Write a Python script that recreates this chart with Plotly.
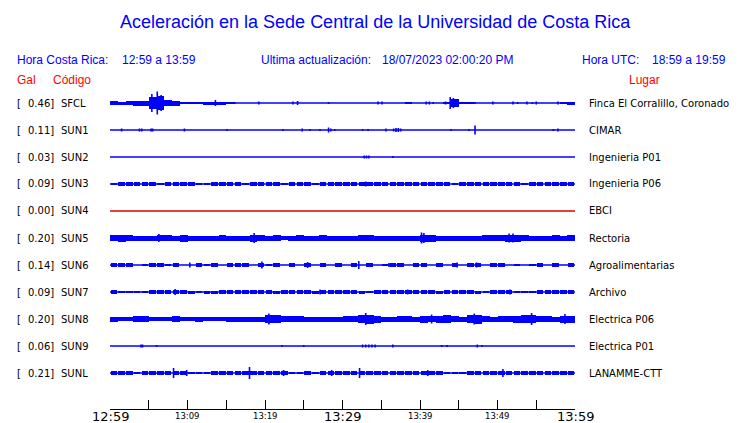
import plotly.graph_objects as go

W, H = 740, 423

# ---------------- data ----------------
codes = ["SFCL", "SUN1", "SUN2", "SUN3", "SUN4", "SUN5", "SUN6", "SUN7", "SUN8", "SUN9", "SUNL"]
places = ["Finca El Corralillo, Coronado", "CIMAR", "Ingenieria P01", "Ingenieria P06", "EBCI",
          "Rectoria", "Agroalimentarias", "Archivo", "Electrica P06", "Electrica P01", "LANAMME-CTT"]
gal = [0.46, 0.11, 0.03, 0.09, 0.00, 0.20, 0.14, 0.09, 0.20, 0.06, 0.21]

tick_minutes = [0, 5, 10, 15, 20, 25, 30, 35, 40, 45, 50, 55, 60]
major_labels = {0: "12:59", 30: "13:29", 60: "13:59"}
minor_labels = {10: "13:09", 20: "13:19", 40: "13:39", 50: "13:49"}

minutes = list(range(60))  # one-minute envelope bins from 12:59

# per-station envelope (half amplitude per minute) and isolated spikes (minute, half amplitude)
SFCL_env = [2, 1.5, 2, 2.5, 2.5, 6, 7, 3, 2.5, 1,
            1, 1, 1.5, 1.5, 1.5, 0.8, 0, 0, 0, 0,
            0, 0, 0, 0, 0, 0, 0, 0, 0, 0,
            0, 0, 0, 0, 0, 0, 0, 0, 1.2, 0,
            0, 0, 0, 1, 4, 1.2, 1, 0, 0, 0,
            0, 0, 0, 0, 0, 0, 0, 0, 1, 1.5]
SFCL_spk_t = [5.4, 6.1, 6.6, 13.6, 43.9, 44.3, 16.1, 19.2, 23.6, 24.2, 28.2, 34.6, 35.1, 40.8, 41.2, 41.7,
              43.3, 46.8, 47.1, 49.4, 52.0, 52.6, 53.8, 54.5, 55.0, 57.8]
SFCL_spk_a = [9, 11.5, 8, 3, 6, 5, 1, 1.5, 1.5, 2, 1, 1.5, 1.5, 1.5, 1.5, 1,
              1.5, 1, 1, 1.5, 1.5, 1, 1.5, 1, 1.5, 1.5]

SUN1_env = [0] * 60
SUN1_spk_t = [1.5, 3.8, 4.1, 5.3, 5.5, 9.6, 15.1, 22.3, 24.8, 25.8, 27.1, 28.2, 28.5, 29.0, 32.6, 33.3,
              35.6, 36.6, 36.9, 37.2, 37.5, 44.0, 46.3, 47.1, 57.2, 57.8]
SUN1_spk_a = [1.5, 1.5, 1.5, 1.5, 1.5, 1.5, 1, 1, 1.5, 1, 1, 2.5, 1.5, 1, 1, 1,
              1.5, 1.5, 2, 2, 1.5, 1, 1, 4.5, 1, 1.5]

SUN2_env = [0] * 60
SUN2_spk_t = [32.8, 33.1, 33.4, 36.5]
SUN2_spk_a = [1.5, 1.5, 1.5, 1]

SUN3_env = [1.4, 1.7, 1.7, 1.7, 1.7, 1.7, 1.4, 1.7, 1.7, 1.7,
            1.7, 1.4, 1.2, 1.7, 1.7, 1.7, 1.7, 1.4, 1.7, 1.7,
            1.7, 1.7, 1.4, 1.7, 1.7, 1.7, 1.4, 1.7, 1.7, 1.7,
            1.7, 1.7, 1.7, 1.7, 1.7, 2.0, 1.7, 1.7, 1.7, 1.7,
            1.7, 1.7, 1.7, 1.7, 1.4, 1.7, 1.7, 1.7, 1.7, 1.7,
            1.7, 1.7, 1.7, 1.4, 1.7, 1.7, 1.7, 2.0, 2.2, 2.2]
SUN3_spk_t = [33.0]
SUN3_spk_a = [2.5]

SUN4_env = [0] * 60
SUN4_spk_t = []
SUN4_spk_a = []

SUN5_env = [3, 3.5, 3, 2.5, 2.5, 2.5, 3, 3, 2.5, 3.5,
            2.5, 2.5, 2.5, 2.5, 3, 2.5, 2.5, 2.5, 3.5, 3,
            2.5, 3, 2, 2.5, 3, 2.5, 2.5, 3, 2.5, 2.5,
            2.5, 2.5, 3, 3, 2.5, 2.5, 2.5, 2.5, 2.5, 2.5,
            3.5, 3.5, 2.5, 2.5, 2.5, 2.5, 2.5, 2.5, 3, 3,
            3, 3.5, 3.5, 3, 2.5, 2.5, 2.5, 3, 2.5, 3]
SUN5_spk_t = [6.3, 18.6, 40.2, 40.5, 51.5, 52.0]
SUN5_spk_a = [4, 5, 5.5, 5, 4.5, 4.5]

SUN6_env = [1.7, 1.7, 1.7, 0, 1, 1.7, 1.7, 1, 1.7, 0,
            0, 1.7, 1, 1.7, 0, 1.7, 1.7, 1.7, 0, 1.7,
            1, 1.7, 0, 1.7, 0, 1.7, 0, 1.7, 0, 1.7,
            0, 1.7, 0, 1.7, 0, 1, 1.7, 1.7, 0, 1.7,
            1.7, 0, 1.7, 0, 2, 0, 1.7, 2, 0, 1.7,
            1.7, 0, 1, 0, 1, 1.7, 0, 1.7, 0, 1.7]
SUN6_spk_t = [10.3, 19.6, 25.5, 32.1, 44.8, 47.3, 36.0]
SUN6_spk_a = [2.5, 3.5, 3, 4, 2.5, 2.5, 2]

SUN7_env = [1.8, 1, 1, 1, 1, 1.8, 1.8, 1.8, 1.8, 1.8,
            1.5, 0.3, 1.5, 1.5, 1.8, 1.8, 1.8, 1.8, 1.8, 1.8,
            1.8, 1.5, 1.8, 1.8, 1.8, 1.8, 1.5, 1.8, 1.8, 1.8,
            1.8, 1.8, 1.5, 1, 1.8, 1.8, 1.8, 1.8, 1.8, 1.8,
            1.8, 1.8, 1.5, 1.8, 1.8, 1.8, 1.8, 1.5, 0.3, 1.8,
            1.8, 1.8, 1, 0.3, 0.3, 1.8, 1.8, 1.8, 1.8, 1.8]
SUN7_spk_t = [8.4, 27.1, 51.6, 38.4]
SUN7_spk_a = [3, 2.5, 2.5, 2.5]

SUN8_env = [2.5, 2, 2, 3, 3, 2, 2, 2, 3, 2,
            2, 2.5, 2, 2, 2, 2.5, 2.5, 2.5, 2.5, 2.5,
            4, 4, 3, 3, 3, 2.5, 2.5, 2.5, 2.5, 2.5,
            3, 3, 4, 4.5, 3.5, 2.5, 2.5, 3, 3, 2.5,
            3.5, 3, 3.5, 4, 3, 2.5, 4, 4.5, 3, 2.5,
            3, 3, 3.5, 4, 4, 3, 3, 2.5, 3.5, 3.5]
SUN8_spk_t = [20.5, 33.0, 41.5, 47.0, 54.4, 58.7]
SUN8_spk_a = [5.5, 6, 4.5, 5.5, 6, 5]

SUN9_env = [0] * 60
SUN9_spk_t = [4.0, 4.2, 6.0, 22.2, 25.0, 32.6, 33.0, 33.4, 33.8, 34.2, 36.5, 42.8, 43.5, 47.4, 48.0]
SUN9_spk_a = [1.5, 1.5, 1, 1, 1, 1.5, 1.5, 1.5, 1.5, 1.5, 1.5, 1, 1, 1.5, 1]

SUNL_env = [1.6, 1.6, 1.6, 1, 1.6, 1.6, 1.6, 1.6, 1.9, 1.6,
            1, 1, 1, 1.6, 1.6, 1.6, 1.6, 1.6, 1.6, 1.6,
            1.6, 1.6, 1.6, 1, 1, 1.6, 1, 1.6, 1.6, 1.6,
            1.6, 1.6, 1.6, 1.6, 1.6, 1.6, 1.6, 1.6, 1.6, 1.6,
            1.6, 1.9, 1.6, 1, 1, 1, 1.6, 1.6, 1.6, 1.6,
            1.6, 1.9, 1.6, 1.6, 1.6, 1.6, 1.6, 1.6, 1.6, 1.9]
SUNL_spk_t = [8.2, 9.9, 18.0, 22.4, 28.6, 32.2, 41.0, 50.7]
SUNL_spk_a = [5, 3, 6, 3, 3, 5, 3, 4]

# ---------------- figure ----------------
station_data = [
    (SFCL_env, SFCL_spk_t, SFCL_spk_a), (SUN1_env, SUN1_spk_t, SUN1_spk_a),
    (SUN2_env, SUN2_spk_t, SUN2_spk_a), (SUN3_env, SUN3_spk_t, SUN3_spk_a),
    (SUN4_env, SUN4_spk_t, SUN4_spk_a), (SUN5_env, SUN5_spk_t, SUN5_spk_a),
    (SUN6_env, SUN6_spk_t, SUN6_spk_a), (SUN7_env, SUN7_spk_t, SUN7_spk_a),
    (SUN8_env, SUN8_spk_t, SUN8_spk_a), (SUN9_env, SUN9_spk_t, SUN9_spk_a),
    (SUNL_env, SUNL_spk_t, SUNL_spk_a),
]

BLUE = "#0000ff"
RED = "#dd0000"
ROW0, ROWSTEP = 103, 27
AXIS_Y = 409
X0, X1 = 110, 575
DASHED = {"SUN3", "SUN6", "SUN7", "SUNL"}  # band texture: broken blocks

fig = go.Figure()

for i, (env, st, sa) in enumerate(station_data):
    row = ROW0 + ROWSTEP * i
    col = RED if codes[i] == "SUN4" else BLUE
    bw = 0.86 if codes[i] in DASHED else 1.0
    # baseline
    fig.add_trace(go.Scatter(x=[0, 60], y=[row, row], mode="lines",
                             line=dict(color=col, width=1.3), hoverinfo="skip", showlegend=False))
    # envelope band
    xs = [m + 0.5 for m, e in zip(minutes, env) if e > 0]
    es = [e for e in env if e > 0]
    if xs:
        fig.add_trace(go.Bar(x=xs, y=[2 * e for e in es], base=[row - e for e in es], width=bw,
                             marker=dict(color=col, line=dict(width=0)), hoverinfo="skip",
                             showlegend=False))
    # spikes
    if st:
        sx, sy = [], []
        for t, a in zip(st, sa):
            sx += [t, t, None]
            sy += [row - a, row + a, None]
        fig.add_trace(go.Scatter(x=sx, y=sy, mode="lines", line=dict(color=col, width=1.6),
                                 hoverinfo="skip", showlegend=False))

ann = []


def px(x):
    return x / W


def py(y):
    return 1 - y / H


def add_text(x, y, text, size, color, family, xanchor="left"):
    ann.append(dict(x=px(x), y=py(y), xref="paper", yref="paper", text=text, showarrow=False,
                    xanchor=xanchor, yanchor="middle", font=dict(size=size, color=color, family=family)))


HELV = "Liberation Sans, Arial, sans-serif"
DEJA = "DejaVu Sans, sans-serif"

add_text(375, 22, "Aceleración en la Sede Central de la Universidad de Costa Rica", 18, BLUE, HELV, "center")
add_text(15, 60, "Hora Costa Rica:", 12, BLUE, HELV)
add_text(120, 60, "12:59 a 13:59", 12, BLUE, HELV)
add_text(259, 60, "Ultima actualización:", 12, BLUE, HELV)
add_text(380, 60, "18/07/2023 02:00:20 PM", 12, BLUE, HELV)
add_text(580, 60, "Hora UTC:", 12, BLUE, HELV)
add_text(650, 60, "18:59 a 19:59", 12, BLUE, HELV)
add_text(15, 80, "Gal", 12, "#ff0000", HELV)
add_text(51, 80, "Código", 12, "#ff0000", HELV)
add_text(662, 80, "Lugar", 12, "#ff0000", HELV, "right")

for i in range(len(codes)):
    row = ROW0 + ROWSTEP * i
    add_text(15, row, "[", 10, "black", DEJA)
    add_text(56, row, f"{gal[i]:.2f}]", 10, "black", DEJA, "right")
    add_text(59, row, codes[i], 10, "black", DEJA)
    add_text(587, row, places[i], 10, "black", DEJA)

for m, lab in major_labels.items():
    ann.append(dict(x=m, y=py(416), xref="x", yref="paper", text=lab, showarrow=False,
                    xanchor="center", yanchor="middle", font=dict(size=13, color="black", family=DEJA)))
for m, lab in minor_labels.items():
    ann.append(dict(x=m, y=py(416), xref="x", yref="paper", text=lab, showarrow=False,
                    xanchor="center", yanchor="middle", font=dict(size=8.5, color="black", family=DEJA)))

fig.update_layout(
    width=W, height=H, margin=dict(l=0, r=0, t=0, b=0),
    paper_bgcolor="white", plot_bgcolor="white",
    barmode="overlay", bargap=0, showlegend=False,
    annotations=ann,
    xaxis=dict(domain=[X0 / W, X1 / W], range=[0, 60], tickvals=tick_minutes, ticks="inside",
               ticklen=9, tickwidth=1, tickcolor="black", showticklabels=False, showline=True,
               linecolor="black", linewidth=1, showgrid=False, zeroline=False, fixedrange=True),
    yaxis=dict(domain=[(H - AXIS_Y) / H, 1], range=[AXIS_Y, 0], visible=False,
               showgrid=False, zeroline=False, fixedrange=True),
)

fig.write_html("out.html", config={"displayModeBar": False},
               post_script="document.body.style.margin='0';document.body.style.overflow='hidden';")
